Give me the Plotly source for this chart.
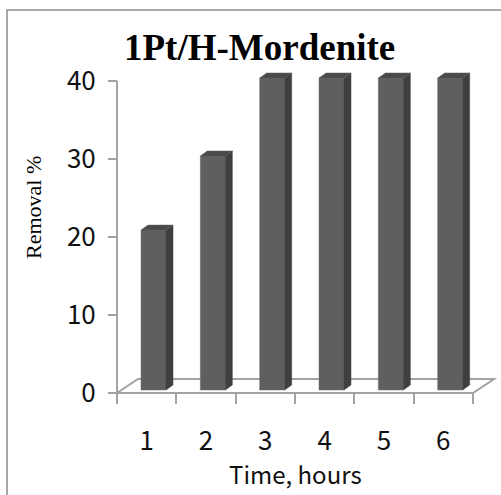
import plotly.graph_objects as go

# ---- data ----
hours = [1, 2, 3, 4, 5, 6]
removal = [20.5, 30, 40, 40, 40, 40]
y_ticks = [0, 10, 20, 30, 40]
x_ticklabels = ["1", "2", "3", "4", "5", "6"]
title_text = "1Pt/H-Mordenite"
x_title = "Time, hours"
y_title = "Removal %"

# ---- geometry / style (pixel targets) ----
W, H = 501, 495
PX_X0, PX_X1 = 117, 473      # pixel of x=0.5 and x=6.5
PX_Y0, PX_Y1 = 393, 81       # pixel of y=0 and y=40
sx = (PX_X1 - PX_X0) / 6.0   # px per x unit
sy = (PX_Y0 - PX_Y1) / 40.0  # px per y unit
x_range = [0.5 - PX_X0 / sx, 0.5 + (W - PX_X0) / sx]
y_range = [-(H - PX_Y0) / sy, 40 + PX_Y1 / sy]

FLOOR_DX, FLOOR_DY = 21 / sx, 14 / sy     # floor depth
LIFT = 3 / sy                              # bars sit slightly behind the front plane
BAR_W = 25 / sx
BAR_OFF = (141 - PX_X0) / sx - 0.5
DDX, DDY = 7 / sx, 5 / sy                  # bar depth

FRONT = "#5f5f5f"
SIDE = "#3f3f3f"
TOP = "#4a4a4a"
AXIS = "#a3a3a3"

fig = go.Figure()

fig.add_trace(go.Bar(
    x=hours, y=removal, base=LIFT, width=BAR_W, offset=BAR_OFF,
    marker=dict(color=FRONT, line=dict(color="#6e6e6e", width=0.5)),
    showlegend=False, hoverinfo="skip",
))

side_x, side_y, top_x, top_y = [], [], [], []
for xc, v in zip(hours, removal):
    xl = xc + BAR_OFF
    xr = xl + BAR_W
    b = LIFT
    t = LIFT + v
    side_x += [xr, xr + DDX, xr + DDX, xr, xr, None]
    side_y += [b, b + DDY, t + DDY, t, b, None]
    top_x += [xl, xl + DDX, xr + DDX, xr, xl, None]
    top_y += [t, t + DDY, t + DDY, t, t, None]

fig.add_trace(go.Scatter(x=side_x, y=side_y, mode="lines", fill="toself",
                         fillcolor=SIDE, line=dict(color=SIDE, width=0.5),
                         showlegend=False, hoverinfo="skip"))
fig.add_trace(go.Scatter(x=top_x, y=top_y, mode="lines", fill="toself",
                         fillcolor=TOP, line=dict(color="#5a5a5a", width=0.5),
                         showlegend=False, hoverinfo="skip"))

shapes = []
# floor
shapes.append(dict(type="path", xref="x", yref="y", layer="below",
                   path=f"M 0.5,0 L 6.5,0 L {6.5+FLOOR_DX},{FLOOR_DY} L {0.5+FLOOR_DX},{FLOOR_DY} Z",
                   line=dict(color=AXIS, width=2)))
# value axis line
shapes.append(dict(type="line", xref="x", yref="y", layer="below",
                   x0=0.5, x1=0.5, y0=0, y1=40, line=dict(color=AXIS, width=2)))
# outer border
shapes.append(dict(type="rect", xref="paper", yref="paper",
                   x0=7 / W, x1=1.1, y0=1 - 10 / H, y1=-0.1,
                   line=dict(color="#8c8c8c", width=1.5)))

tick_font = dict(family="Noto Sans CJK KR", size=26, color="#111111")

fig.update_layout(
    width=W, height=H,
    margin=dict(l=0, r=0, t=0, b=0),
    paper_bgcolor="white", plot_bgcolor="white",
    shapes=shapes,
    xaxis=dict(domain=[0, 1], range=x_range, anchor="free", position=1 - PX_Y0 / H,
               showgrid=False, zeroline=False, showline=False,
               tickmode="array", tickvals=hours, ticktext=x_ticklabels, ticks="",
               ticklabelstandoff=30, tickfont=tick_font,
               minor=dict(tickmode="array", tickvals=[h + 0.5 for h in [0] + hours],
                          ticks="outside", ticklen=10, tickwidth=2, tickcolor=AXIS,
                          showgrid=False)),
    yaxis=dict(domain=[0, 1], range=y_range, anchor="free", position=PX_X0 / W,
               showgrid=False, zeroline=False, showline=False,
               tickmode="array", tickvals=y_ticks, ticks="outside", ticklen=9,
               tickwidth=2, tickcolor=AXIS, ticklabelstandoff=7, tickfont=tick_font),
    annotations=[
        dict(text=title_text, xref="paper", yref="paper", x=259 / W, y=1 - 48 / H,
             xanchor="center", yanchor="middle", showarrow=False,
             font=dict(family="Liberation Serif", size=37, color="#000000", weight="bold")),
        dict(text=y_title, xref="paper", yref="paper", x=33 / W, y=1 - 208 / H,
             xanchor="center", yanchor="middle", showarrow=False, textangle=-90,
             font=dict(family="Liberation Serif", size=22, color="#000000")),
        dict(text=x_title, xref="paper", yref="paper", x=295 / W, y=1 - 473 / H,
             xanchor="center", yanchor="middle", showarrow=False,
             font=dict(family="Noto Sans CJK KR", size=24, color="#111111")),
    ],
)

fig.write_html("out.html")
